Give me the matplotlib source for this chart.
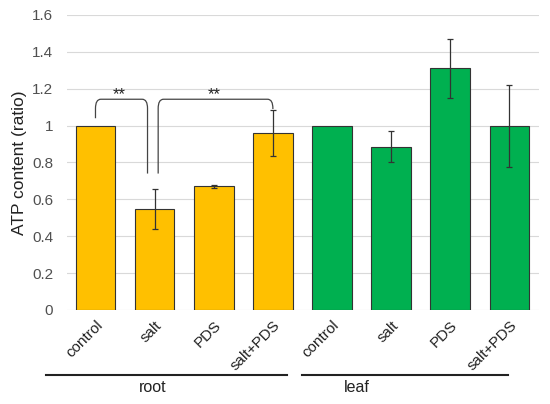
import matplotlib
matplotlib.use("Agg")
import matplotlib.pyplot as plt
from matplotlib.path import Path
from matplotlib.patches import PathPatch
import numpy as np

plt.rcParams['font.family'] = ['Liberation Sans', 'DejaVu Sans']

categories = ["control", "salt", "PDS", "salt+PDS", "control", "salt", "PDS", "salt+PDS"]
values = [1.0, 0.548, 0.672, 0.958, 1.0, 0.886, 1.31, 1.0]
errors = [0.0, 0.108, 0.008, 0.124, 0.0, 0.085, 0.16, 0.222]
groups = ["root", "leaf"]
colors = ["#FFC000"] * 4 + ["#00B050"] * 4
yticks = [0, 0.2, 0.4, 0.6, 0.8, 1.0, 1.2, 1.4, 1.6]
ytick_labels = ["0", "0.2", "0.4", "0.6", "0.8", "1", "1.2", "1.4", "1.6"]

fig = plt.figure(figsize=(5.5, 4.04), dpi=100)
ax = fig.add_axes([0.122, 0.2327, 0.858, 0.7302])

x = np.arange(len(categories))
ax.bar(x, values, width=0.67, color=colors, edgecolor="#333333", linewidth=0.8, zorder=3)
for xi, v, e in zip(x, values, errors):
    if e > 0:
        ax.errorbar(xi, v, yerr=e, fmt='none', ecolor="#333333", elinewidth=0.9,
                    capsize=2.5, capthick=0.9, zorder=4)

ax.set_xlim(-0.48, 7.5)
ax.set_ylim(0, 1.6)
ax.set_yticks(yticks)
ax.set_yticklabels(ytick_labels, fontsize=11, color="#505050")
ax.yaxis.grid(True, color="#d9d9d9", linewidth=0.8, zorder=0)
ax.set_axisbelow(True)
for s in ax.spines.values():
    s.set_visible(False)
ax.tick_params(axis='both', length=0)
ax.tick_params(axis='y', pad=10)
ax.set_xticks(x)
ax.set_xticklabels(categories, rotation=45, ha='right', va='top',
                   rotation_mode='anchor', fontsize=11, color="#222222")
ax.tick_params(axis='x', pad=6)
ax.set_ylabel("ATP content (ratio)", fontsize=12.5, color="#222222", labelpad=4)


def bracket(x0, y0, x1, y1, ytop, r=0.05):
    rx = 0.09
    verts = [(x0, y0), (x0, ytop - r), (x0, ytop), (x0 + rx, ytop),
             (x1 - rx, ytop), (x1, ytop), (x1, ytop - r), (x1, y1)]
    codes = [Path.MOVETO, Path.LINETO, Path.CURVE3, Path.CURVE3,
             Path.LINETO, Path.CURVE3, Path.CURVE3, Path.LINETO]
    ax.add_patch(PathPatch(Path(verts, codes), fill=False, edgecolor="#444444",
                           linewidth=0.9, zorder=5))

bracket(0.0, 1.04, 0.88, 0.74, 1.143)
bracket(1.06, 0.74, 3.0, 1.09, 1.143)
ax.text(0.40, 1.17, "**", ha='center', va='center', fontsize=12, color="#222222")
ax.text(2.0, 1.17, "**", ha='center', va='center', fontsize=12, color="#222222")

# group lines and labels
y_line = 1 - 375 / 404
fig.add_artist(plt.Line2D([46 / 550, 287 / 550], [y_line, y_line], color="#222222", linewidth=1.5))
fig.add_artist(plt.Line2D([302 / 550, 508 / 550], [y_line, y_line], color="#222222", linewidth=1.5))
fig.text(153 / 550, 1 - 388 / 404, groups[0], ha='center', va='center', fontsize=11.5, color="#222222")
fig.text(357 / 550, 1 - 388 / 404, groups[1], ha='center', va='center', fontsize=11.5, color="#222222")

fig.savefig("out.png", dpi=100)
